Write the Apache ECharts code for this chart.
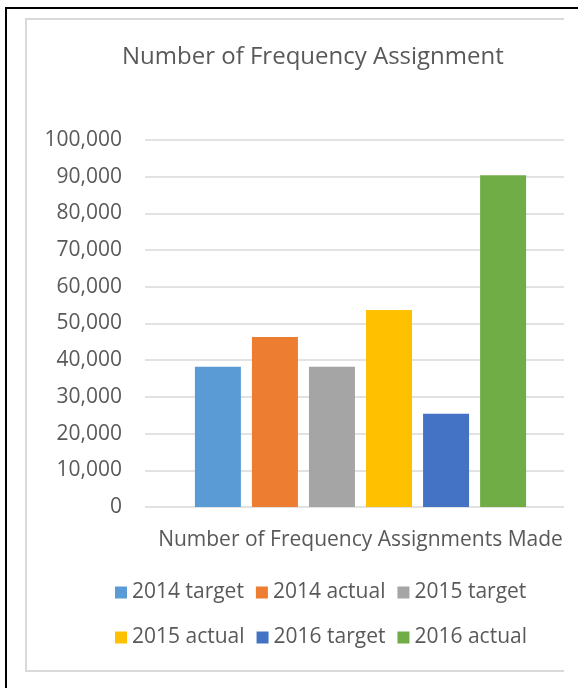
<!DOCTYPE html>
<html style="height: 100%">
    <head>
        <meta charset="utf-8">
    </head>
    <body style="height: 100%; margin: 0; background: #fff">
        <div id="container" style="width: 578px; height: 688px"></div>

        <script type="text/javascript" src="https://cdn.jsdelivr.net/npm/echarts@6/dist/echarts.min.js"></script>
        <script type="text/javascript">

var seriesNames = ['2014 target', '2014 actual', '2015 target', '2015 actual', '2016 target', '2016 actual'];
var seriesValues = [38200, 46300, 38200, 53700, 25400, 90400];
var seriesColors = ['#5b9bd5', '#ed7d31', '#a5a5a5', '#ffc000', '#4472c4', '#70ad47'];
var categories = ['Number of Frequency Assignments Made'];

var dom = document.getElementById("container");
var myChart = echarts.init(dom);

var font = 'Open Sans';
var textGray = '#595959';

option = {
    backgroundColor: '#fff',
    animation: false,
    title: {
        text: 'Number of Frequency Assignment',
        left: 122,
        top: 45,
        padding: 0,
        textStyle: {
            fontFamily: font,
            fontSize: 24,
            fontWeight: 'normal',
            color: textGray
        }
    },
    legend: [
        {
            data: seriesNames.slice(0, 3),
            left: 115,
            top: 582,
            padding: 0,
            itemWidth: 12,
            itemHeight: 12,
            itemGap: 12,
            icon: 'rect',
            textStyle: { fontFamily: font, fontSize: 21, color: textGray, width: 111 }
        },
        {
            data: seriesNames.slice(3),
            left: 115,
            top: 627,
            padding: 0,
            itemWidth: 12,
            itemHeight: 12,
            itemGap: 12,
            icon: 'rect',
            textStyle: { fontFamily: font, fontSize: 21, color: textGray, width: 111 }
        }
    ],
    // grid 0 carries the gridlines, grid 1 carries the bars (Excel's group sits a bit right of centre)
    grid: [
        { left: 145, right: 14, top: 140, bottom: 181 },
        { left: 157, right: 14, top: 140, bottom: 181 }
    ],
    xAxis: [
        {
            type: 'category',
            gridIndex: 0,
            data: categories,
            show: false
        },
        {
            type: 'category',
            gridIndex: 1,
            data: categories,
            axisLine: { show: false },
            axisTick: { show: false },
            axisLabel: {
                margin: 23,
                fontFamily: font,
                fontSize: 21,
                color: textGray
            }
        }
    ],
    yAxis: [
        {
            type: 'value',
            gridIndex: 0,
            min: 0,
            max: 100000,
            interval: 10000,
            axisLine: { show: false },
            axisTick: { show: false },
            axisLabel: {
                margin: 23,
                fontFamily: font,
                fontSize: 21,
                color: textGray,
                formatter: function (v) { return v.toLocaleString('en-US'); }
            },
            splitLine: { lineStyle: { color: '#d9d9d9', width: 1.5 } }
        },
        {
            type: 'value',
            gridIndex: 1,
            min: 0,
            max: 100000,
            interval: 10000,
            show: false,
            splitLine: { show: false }
        }
    ],
    series: seriesNames.map(function (name, i) {
        var data = categories.map(function () { return seriesValues[i]; });
        return {
            name: name,
            type: 'bar',
            xAxisIndex: 1,
            yAxisIndex: 1,
            barWidth: 46,
            barGap: '24%',
            itemStyle: { color: seriesColors[i] },
            data: data
        };
    }),
    graphic: [
        {
            type: 'rect',
            shape: { x: 6, y: 8, width: 700, height: 800 },
            style: { fill: null, stroke: '#000', lineWidth: 2 },
            silent: true
        },
        {
            type: 'polyline',
            shape: { points: [[564, 19], [26, 19], [26, 671], [564, 671]] },
            style: { fill: null, stroke: '#d9d9d9', lineWidth: 2 },
            silent: true
        }
    ]
};

if (option && typeof option === 'object') {
    myChart.setOption(option);
}

        </script>
    </body>
</html>
